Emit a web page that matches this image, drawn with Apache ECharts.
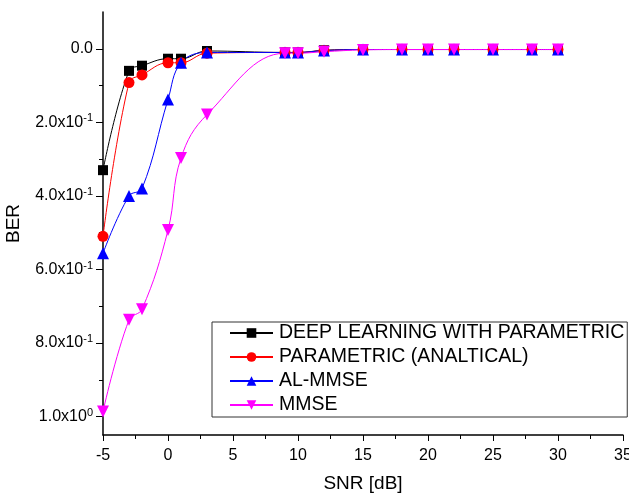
<!DOCTYPE html>
<html>
<head>
<meta charset="utf-8">
<title>BER vs SNR</title>
<script src="https://cdn.jsdelivr.net/npm/echarts@6/dist/echarts.min.js"></script>
<style>
  html, body { margin: 0; padding: 0; background: #fff; }
  #chartmain { width: 629px; height: 498px; }
</style>
</head>
<body>
<div id="chartmain"></div>
<script>
var snr = [-5, -3, -2, 0, 1, 3, 9, 10, 12, 15, 18, 20, 22, 25, 28, 30];

var deepParam = [0.330, 0.060, 0.046, 0.027, 0.027, 0.006, 0.010, 0.010, 0.004, 0.002, 0.002, 0.002, 0.002, 0.002, 0.002, 0.002];
var paramAnal = [0.510, 0.092, 0.071, 0.038, 0.038, 0.012, 0.010, 0.010, 0.005, 0.002, 0.002, 0.002, 0.002, 0.002, 0.002, 0.002];
var alMmse    = [0.556, 0.400, 0.380, 0.138, 0.038, 0.010, 0.010, 0.010, 0.005, 0.002, 0.002, 0.002, 0.002, 0.002, 0.002, 0.002];
var mmse      = [0.986, 0.737, 0.708, 0.493, 0.297, 0.179, 0.012, 0.012, 0.008, 0.003, 0.002, 0.002, 0.002, 0.002, 0.002, 0.002];

var seriesNames = ['DEEP LEARNING WITH PARAMETRIC', 'PARAMETRIC (ANALTICAL)', 'AL-MMSE', 'MMSE'];
var yMajor = [0, 0.2, 0.4, 0.6, 0.8, 1.0];
var yMinor = [0.1, 0.3, 0.5, 0.7, 0.9];
var yLabels = ['{b|0.0}', '{b|2.0x10}{s|-1}', '{b|4.0x10}{s|-1}', '{b|6.0x10}{s|-1}', '{b|8.0x10}{s|-1}', '{b|1.0x10}{s|0}'];

function pairs(ys) {
    var out = [];
    for (var i = 0; i < snr.length; i++) {
        out.push([snr[i], ys[i]]);
    }
    return out;
}

var font = 'Liberation Sans, Arial, sans-serif';

function makeSeries(name, ys, color, symbol, size, rotate) {
    return {
        name: name,
        type: 'line',
        data: pairs(ys),
        smooth: 0.4,
        symbol: symbol,
        symbolSize: size,
        symbolRotate: rotate,
        showAllSymbol: true,
        lineStyle: {color: color, width: 1},
        itemStyle: {color: color},
        emphasis: {disabled: true}
    };
}

var myChart = echarts.init(document.getElementById('chartmain'));
var option = {
    animation: false,
    grid: {left: 103, right: 6, top: 12, bottom: 63, outerBoundsMode: 'none', containLabel: false},
    legend: {
        orient: 'vertical',
        left: 212,
        top: 322,
        padding: [1, 3, 2, 17],
        itemGap: 4,
        itemWidth: 43,
        itemHeight: 12,
        borderColor: '#333',
        borderWidth: 1,
        textStyle: {fontFamily: font, fontSize: 19.5, lineHeight: 20, color: '#000', padding: [0, 0, 0, 1]},
        data: seriesNames
    },
    xAxis: {
        type: 'value',
        min: -5,
        max: 35,
        interval: 5,
        name: 'SNR [dB]',
        nameLocation: 'middle',
        nameGap: 39,
        nameTextStyle: {fontFamily: font, fontSize: 19, color: '#000'},
        axisLine: {show: true, onZero: false, lineStyle: {color: '#000', width: 1.5}},
        axisTick: {show: true, inside: false, length: 6, lineStyle: {color: '#000'}},
        minorTick: {show: true, splitNumber: 2, length: 4, lineStyle: {color: '#000'}},
        axisLabel: {fontFamily: font, fontSize: 16, color: '#000', margin: 13},
        splitLine: {show: false}
    },
    yAxis: [{
        type: 'value',
        inverse: true,
        min: -0.1,
        max: 1.05,
        name: 'BER',
        nameLocation: 'middle',
        nameGap: 80,
        nameTextStyle: {fontFamily: font, fontSize: 19, color: '#000'},
        axisLine: {show: true, onZero: false, lineStyle: {color: '#000', width: 1.5}},
        axisTick: {show: true, inside: false, length: 7, customValues: yMajor, lineStyle: {color: '#000'}},
        axisLabel: {
            customValues: yMajor,
            margin: 10,
            formatter: function (v) {
                var i = Math.round(v / 0.2);
                return yLabels[i];
            },
            rich: {
                b: {fontFamily: font, fontSize: 16, color: '#000'},
                s: {fontFamily: font, fontSize: 11, color: '#000', padding: [0, 0, 8, 0]}
            }
        },
        splitLine: {show: false}
    }, {
        type: 'value',
        inverse: true,
        min: -0.1,
        max: 1.05,
        position: 'left',
        axisLine: {show: false, onZero: false},
        axisTick: {show: true, inside: false, length: 4, customValues: yMinor, lineStyle: {color: '#000'}},
        axisLabel: {show: false},
        splitLine: {show: false}
    }],
    series: [
        makeSeries(seriesNames[0], deepParam, '#000000', 'rect', 10, 0),
        makeSeries(seriesNames[1], paramAnal, '#ff0000', 'circle', 11, 0),
        makeSeries(seriesNames[2], alMmse, '#0000ff', 'triangle', 12, 0),
        makeSeries(seriesNames[3], mmse, '#ff00ff', 'triangle', 12, 180)
    ]
};
myChart.setOption(option);
</script>
</body>
</html>
